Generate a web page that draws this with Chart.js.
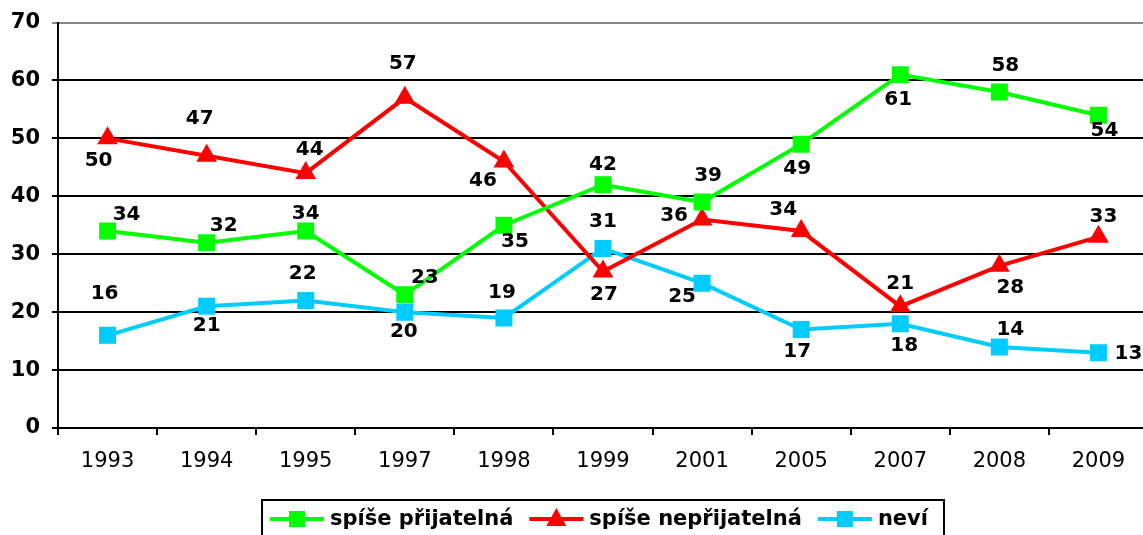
<!DOCTYPE html>
<html>
<head>
<meta charset="utf-8">
<script src="https://cdn.jsdelivr.net/npm/chart.js@4/dist/chart.umd.min.js"></script>
<style>
  html, body { margin: 0; padding: 0; background: #fff; overflow: hidden; }
  canvas { display: block; }
</style>
</head>
<body>
<canvas id="chart-nazor" width="1160" height="535"></canvas>
<script>
const years = ["1993", "1994", "1995", "1997", "1998", "1999", "2001", "2005", "2007", "2008", "2009"];
const prijatelna = [34, 32, 34, 23, 35, 42, 39, 49, 61, 58, 54];
const neprijatelna = [50, 47, 44, 57, 46, 27, 36, 34, 21, 28, 33];
const nevi = [16, 21, 22, 20, 19, 31, 25, 17, 18, 14, 13];
const yTicks = [0, 10, 20, 30, 40, 50, 60, 70];

// where each value label sits relative to its point (px)
const labelOffsets = [
  [[19, -16], [17, -17], [0, -17], [20, -17], [11, 17], [0, -20], [6, -26], [-4, 25], [-2, 25], [6, -26], [6, 16]],
  [[-9, 22], [-7, -37], [4, -23], [-2, -34], [-21, 19], [1, 23], [-28, -4], [-18, -21], [0, -23], [11, 22], [5, -20]],
  [[-3, -42], [0, 19], [-3, -27], [-1, 20], [-2, -25], [0, -27], [-20, 14], [-4, 22], [4, 22], [11, -17], [30, 1]],
];

const font = "'DejaVu Sans', Verdana, sans-serif";

const valueLabels = {
  id: "valueLabels",
  afterDatasetsDraw(chart) {
    const ctx = chart.ctx;
    ctx.save();
    ctx.font = "bold 20px " + font;
    ctx.fillStyle = "#000";
    ctx.textAlign = "center";
    ctx.textBaseline = "middle";
    chart.data.datasets.forEach((ds, i) => {
      chart.getDatasetMeta(i).data.forEach((pt, j) => {
        const off = labelOffsets[i][j];
        ctx.fillText(String(ds.data[j]), pt.x + off[0], pt.y + off[1]);
      });
    });
    ctx.restore();
  },
};

const boxLegend = {
  id: "boxLegend",
  afterDraw(chart) {
    const ctx = chart.ctx;
    const area = chart.chartArea;
    ctx.save();
    ctx.font = "bold 21px " + font;
    const lineW = 54, gapT = 6, gapI = 16, pad = 8;
    const items = chart.data.datasets.map(ds => ({ ds, w: ctx.measureText(ds.label).width }));
    let total = pad * 2 + 8;
    items.forEach((it, k) => { total += lineW + gapT + it.w + (k < items.length - 1 ? gapI : 0); });
    const top = 500, h = 50;
    let x = (area.left + area.right) / 2 - total / 2;
    ctx.lineWidth = 2;
    ctx.strokeStyle = "#000";
    ctx.strokeRect(x, top, total, h);
    x += pad;
    const cy = 519;
    items.forEach(it => {
      const c = it.ds.borderColor;
      ctx.strokeStyle = c;
      ctx.lineWidth = 4;
      ctx.beginPath();
      ctx.moveTo(x, cy);
      ctx.lineTo(x + lineW, cy);
      ctx.stroke();
      ctx.fillStyle = c;
      const mx = x + lineW / 2;
      if (it.ds.pointStyle === "triangle") {
        ctx.beginPath();
        ctx.moveTo(mx, cy - 11);
        ctx.lineTo(mx + 10, cy + 7);
        ctx.lineTo(mx - 10, cy + 7);
        ctx.closePath();
        ctx.fill();
      } else {
        ctx.fillRect(mx - 8, cy - 8, 16, 16);
      }
      ctx.fillStyle = "#000";
      ctx.textBaseline = "middle";
      ctx.textAlign = "left";
      ctx.fillText(it.ds.label, x + lineW + gapT, cy + 1);
      x += lineW + gapT + it.w + gapI;
    });
    ctx.restore();
  },
};

new Chart(document.getElementById("chart-nazor"), {
  type: "line",
  data: {
    labels: years,
    datasets: [
      {
        label: "spíše přijatelná",
        data: prijatelna,
        borderColor: "#00ff00",
        backgroundColor: "#00ff00",
        pointStyle: "rect",
        pointRadius: 12,
      },
      {
        label: "spíše nepřijatelná",
        data: neprijatelna,
        borderColor: "#ff0000",
        backgroundColor: "#ff0000",
        pointStyle: "triangle",
        pointRadius: 12,
      },
      {
        label: "neví",
        data: nevi,
        borderColor: "#00ccff",
        backgroundColor: "#00ccff",
        pointStyle: "rect",
        pointRadius: 12,
      },
    ],
  },
  options: {
    responsive: false,
    animation: false,
    events: [],
    elements: {
      line: { borderWidth: 4, tension: 0 },
      point: { borderWidth: 0, hoverRadius: 12 },
    },
    layout: { padding: { top: 16, right: 12, bottom: 60, left: 0 } },
    scales: {
      x: {
        offset: true,
        grid: { offset: true, drawOnChartArea: false, color: "#000", lineWidth: 2, tickLength: 7 },
        border: { color: "#000", width: 2 },
        ticks: { color: "#000", font: { family: font, size: 21 }, padding: 14, maxRotation: 0 },
        afterFit(s) { s.height = 47; },
      },
      y: {
        min: 0,
        max: 70,
        afterBuildTicks(s) { s.ticks = yTicks.map(v => ({ value: v })); },
        grid: {
          color: c => (c.tick && c.tick.value === 70 ? "#888" : "#000"),
          lineWidth: 2,
          tickLength: 6,
        },
        border: { color: "#000", width: 2 },
        ticks: { color: "#000", font: { family: font, size: 21, weight: "bold", lineHeight: 1 }, padding: 12 },
        afterFit(s) { s.width = 58; },
      },
    },
    plugins: {
      legend: { display: false },
      tooltip: { enabled: false },
      title: { display: false },
    },
  },
  plugins: [valueLabels, boxLegend],
});
</script>
</body>
</html>
